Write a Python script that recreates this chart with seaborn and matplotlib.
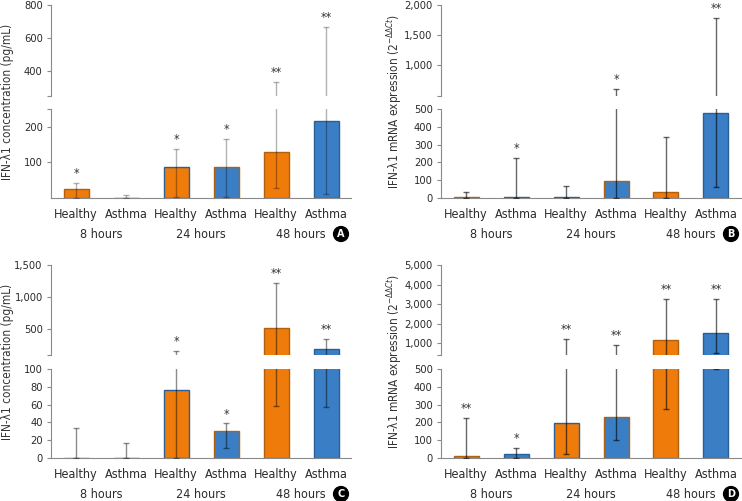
import numpy as np
import pandas as pd
import matplotlib
matplotlib.use("Agg")
import matplotlib.pyplot as plt
from matplotlib import font_manager
from matplotlib.ticker import FuncFormatter
import seaborn as sns

# --- data ---
groups = ["Healthy", "Asthma", "Healthy", "Asthma", "Healthy", "Asthma"]
hours = ["8 hours", "24 hours", "48 hours"]

# A: IFN-l1 protein
a_vals = [25, 0, 87, 87, 130, 215]
a_lo = [0, 0, 2, 3, 28, 12]
a_hi = [42, 8, 138, 167, 335, 670]
a_stars = ["*", "", "*", "*", "**", "**"]

# B: IFN-l1 mRNA
b_vals = [5, 8, 4, 97, 33, 478]
b_lo = [0, 0, 0, 0, 0, 60]
b_hi = [32, 225, 65, 610, 345, 1790]
b_stars = ["", "*", "", "*", "", "**"]

# C: IFN-l1 protein
c_vals = [0, 0, 76, 30, 520, 200]
c_lo = [0, 0, 0, 11, 58, 57]
c_hi = [34, 17, 167, 39, 1220, 350]
c_stars = ["", "", "*", "*", "**", "**"]

# D: IFN-l1 mRNA
d_vals = [10, 20, 195, 228, 1150, 1500]
d_lo = [0, 0, 25, 100, 275, 500]
d_hi = [225, 55, 1220, 900, 3250, 3250]
d_stars = ["**", "*", "**", "**", "**", "**"]

ORANGE = "#EE7B0A"
BLUE = "#3A7EC6"
EDGE = {"Healthy": "#B0600E", "Asthma": "#2B5F98"}

sns.set_style("white")
names = {f.name for f in font_manager.fontManager.ttflist}
narrow = [n for n in ["Liberation Sans Narrow", "DejaVu Sans Condensed"] if n in names]
plt.rcParams["font.family"] = narrow + ["DejaVu Sans"]
plt.rcParams["font.stretch"] = "condensed"
plt.rcParams["mathtext.fontset"] = "dejavusans"

W, H = 742, 501
fig = plt.figure(figsize=(W / 100, H / 100), dpi=100)

TXT = "#2b2b2b"


def fx(px):
    return px / W


def fy(py):
    return 1 - py / H


def draw_bars(ax, vals, lo, hi, err_alpha):
    cats = [f"{i}" for i in range(6)]
    df = pd.DataFrame({"cat": cats, "value": vals, "group": groups})
    sns.barplot(data=df, x="cat", y="value", hue="group",
                palette={"Healthy": ORANGE, "Asthma": BLUE}, saturation=1,
                dodge=False, width=0.5, legend=False, ax=ax,
                linewidth=1.0, zorder=2)
    for p, g in zip(ax.patches, groups):
        p.set_edgecolor(EDGE[g])
    x = np.arange(6)
    v = np.array(vals, dtype=float)
    yerr = [v - np.array(lo), np.array(hi) - v]
    ax.errorbar(x, v, yerr=yerr, fmt="none", ecolor="black", alpha=err_alpha,
                elinewidth=1.0, capsize=2, capthick=1.0, zorder=3)
    ax.set_xlim(-0.5, 5.5)
    ax.set_xlabel("")
    ax.set_ylabel("")


def panel(left, right, up_top, up_bot, low_top, low_bot, vals, lo, hi, stars,
          up_lim, low_lim, up_ticks, low_ticks, ylabel, ylab_x, letter,
          err_alpha, label_low_top=True):
    ax_u = fig.add_axes([fx(left), fy(up_bot), fx(right - left), (up_bot - up_top) / H])
    ax_l = fig.add_axes([fx(left), fy(low_bot), fx(right - left), (low_bot - low_top) / H])
    for ax in (ax_u, ax_l):
        draw_bars(ax, vals, lo, hi, err_alpha)
        for s in ax.spines.values():
            s.set_color("#8a8a8a")
            s.set_linewidth(0.8)
        ax.spines["top"].set_visible(False)
        ax.spines["right"].set_visible(False)
        ax.tick_params(axis="y", direction="out", length=3, width=0.8,
                       color="#8a8a8a", labelsize=8, labelcolor=TXT,
                       pad=3, left=True)
    ax_u.set_ylim(*up_lim)
    ax_l.set_ylim(*low_lim)
    ax_u.spines["bottom"].set_visible(False)
    ax_u.set_xticks([])
    ax_u.set_yticks(up_ticks)
    ax_u.set_yticklabels([""] + [f"{int(t):,}" for t in up_ticks[1:]])
    ax_l.set_yticks(low_ticks)
    labs = [f"{int(t):,}" for t in low_ticks]
    if not label_low_top:
        labs[-1] = ""
    ax_l.set_yticklabels(labs)
    ax_l.set_xticks(range(6))
    ax_l.set_xticklabels(groups, fontsize=9, color=TXT)
    ax_l.tick_params(axis="x", length=0, pad=7)

    # significance marks
    for i, (h, s) in enumerate(zip(hi, stars)):
        if not s:
            continue
        target = ax_u if h > low_lim[1] else ax_l
        target.annotate(s, xy=(i, h), xytext=(0, 2), textcoords="offset points",
                        ha="center", va="bottom", fontsize=9, color="#333333")

    for k, hlab in enumerate(hours):
        ax_l.annotate(hlab, xy=(2 * k + 0.5, 0), xycoords=ax_l.get_xaxis_transform(),
                      xytext=(0, -26), textcoords="offset points",
                      ha="center", va="center", fontsize=9, color=TXT)

    fig.text(fx(ylab_x), fy((up_top + low_bot) / 2), ylabel, rotation=90,
             ha="center", va="center", fontsize=8.5, color="#333333")
    fig.text(fx(right - 10), fy(low_bot + 36), letter, ha="center", va="center",
             fontsize=7, fontweight="bold", color="white",
             family="DejaVu Sans", stretch="normal",
             bbox=dict(boxstyle="circle,pad=0.25", fc="black", ec="black"))


prot_label = "IFN-λ1 concentration (pg/mL)"
mrna_label = r"IFN-λ1 mRNA expression (2$^{-\Delta\Delta Ct}$)"

panel(51, 351, 5, 96, 109, 198, a_vals, a_lo, a_hi, a_stars,
      (250, 800), (0, 250), [250, 400, 600, 800], [100, 200, 250],
      prot_label, 8, "A", 0.3, label_low_top=False)
panel(441, 741, 5, 96, 109, 198, b_vals, b_lo, b_hi, b_stars,
      (490, 2000), (0, 500), [490, 1000, 1500, 2000], [0, 100, 200, 300, 400, 500],
      mrna_label, 395, "B", 0.6)
panel(51, 351, 265, 355, 369, 458, c_vals, c_lo, c_hi, c_stars,
      (100, 1500), (0, 100), [100, 500, 1000, 1500], [0, 20, 40, 60, 80, 100],
      prot_label, 8, "C", 0.45)
panel(441, 741, 265, 355, 369, 458, d_vals, d_lo, d_hi, d_stars,
      (400, 5000), (0, 500), [400, 1000, 2000, 3000, 4000, 5000],
      [0, 100, 200, 300, 400, 500],
      mrna_label, 395, "D", 0.6)

fig.savefig("out.png", dpi=100)
